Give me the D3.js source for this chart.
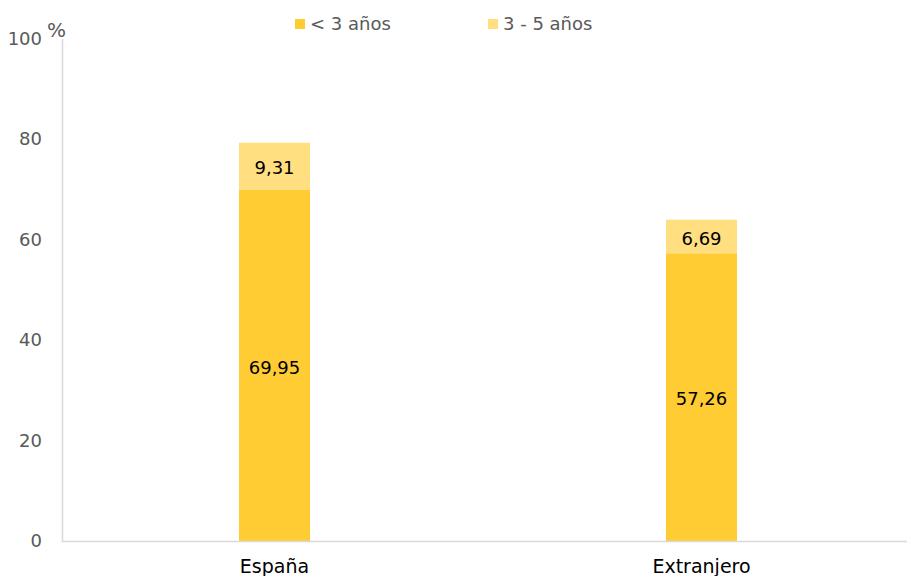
<!DOCTYPE html>
<html>
<head>
<meta charset="utf-8">
<script src="https://cdn.jsdelivr.net/npm/d3@7"></script>
<style>
  body { margin: 0; background: #fff; }
  svg { display: block; font-family: 'DejaVu Sans', sans-serif; }
</style>
</head>
<body>
<div id="chart"></div>
<script>
var categories = ['España', 'Extranjero'];
var seriesNames = ['< 3 años', '3 - 5 años'];
var menos3 = [69.95, 57.26];
var de3a5 = [9.31, 6.69];
var yTicks = [0, 20, 40, 60, 80, 100];

var colors = ['#ffcc33', '#ffdf80'];

var W = 907, H = 576;
var margin = {top: 38.5, right: 0, bottom: 35, left: 62};
var width = W - margin.left - margin.right,
    height = H - margin.top - margin.bottom;

var svg = d3.select('#chart').append('svg')
    .attr('width', W)
    .attr('height', H);

var g = svg.append('g')
    .attr('transform', 'translate(' + margin.left + ',' + margin.top + ')');

var x = d3.scaleBand().range([-1, 853]).domain(categories).padding(0);
var y = d3.scaleLinear().range([height, 0]).domain([0, 100]);
var barW = 71;

var data = categories.map(function(c, i) {
    return {cat: c, values: [menos3[i], de3a5[i]]};
});
var stack = d3.stack().keys([0, 1]).value(function(d, k) { return d.values[k]; });
var layers = stack(data);

// y axis
var yAxis = g.append('g')
    .call(d3.axisLeft(y).tickValues(yTicks).tickSize(0).tickPadding(20));
yAxis.select('.domain').attr('stroke', '#d9d9d9').attr('stroke-width', 1.5);
yAxis.selectAll('text').attr('fill', '#595959').style('font-size', '18px')
    .style('font-family', "'DejaVu Sans', sans-serif");

g.append('text')
    .attr('x', -15)
    .attr('y', -2)
    .attr('text-anchor', 'start')
    .attr('fill', '#595959')
    .style('font-size', '20px')
    .text('%');

// bars
layers.forEach(function(layer, k) {
    g.selectAll('.bar' + k)
        .data(layer)
        .enter().append('rect')
        .attr('class', 'bar' + k)
        .attr('x', function(d) { return x(d.data.cat) + x.bandwidth() / 2 - barW / 2; })
        .attr('y', function(d) { return y(d[1]); })
        .attr('width', barW)
        .attr('height', function(d) { return y(d[0]) - y(d[1]); })
        .attr('fill', colors[k]);

    g.selectAll('.lab' + k)
        .data(layer)
        .enter().append('text')
        .attr('x', function(d) { return x(d.data.cat) + x.bandwidth() / 2; })
        .attr('y', function(d) { return (y(d[0]) + y(d[1])) / 2 + 2; })
        .attr('dy', '0.35em')
        .attr('text-anchor', 'middle')
        .attr('fill', '#000')
        .style('font-size', '18px')
        .text(function(d) { return d3.format('.2f')(d[1] - d[0]).replace('.', ','); });
});

// x axis
var xAxis = g.append('g')
    .attr('transform', 'translate(0,' + height + ')')
    .call(d3.axisBottom(x).tickSize(0).tickPadding(19));
xAxis.select('.domain').attr('stroke', '#d9d9d9').attr('stroke-width', 1.5);
xAxis.selectAll('text').attr('fill', '#000').style('font-size', '19px')
    .style('font-family', "'DejaVu Sans', sans-serif");

// legend
var legendX = [295, 488];
var legend = svg.append('g');
seriesNames.forEach(function(name, i) {
    legend.append('rect')
        .attr('x', legendX[i]).attr('y', 19)
        .attr('width', 10).attr('height', 10)
        .attr('fill', colors[i]);
    legend.append('text')
        .attr('x', legendX[i] + 15).attr('y', 24)
        .attr('dy', '0.35em')
        .attr('fill', '#595959')
        .style('font-size', '18px')
        .text(name);
});
</script>
</body>
</html>
